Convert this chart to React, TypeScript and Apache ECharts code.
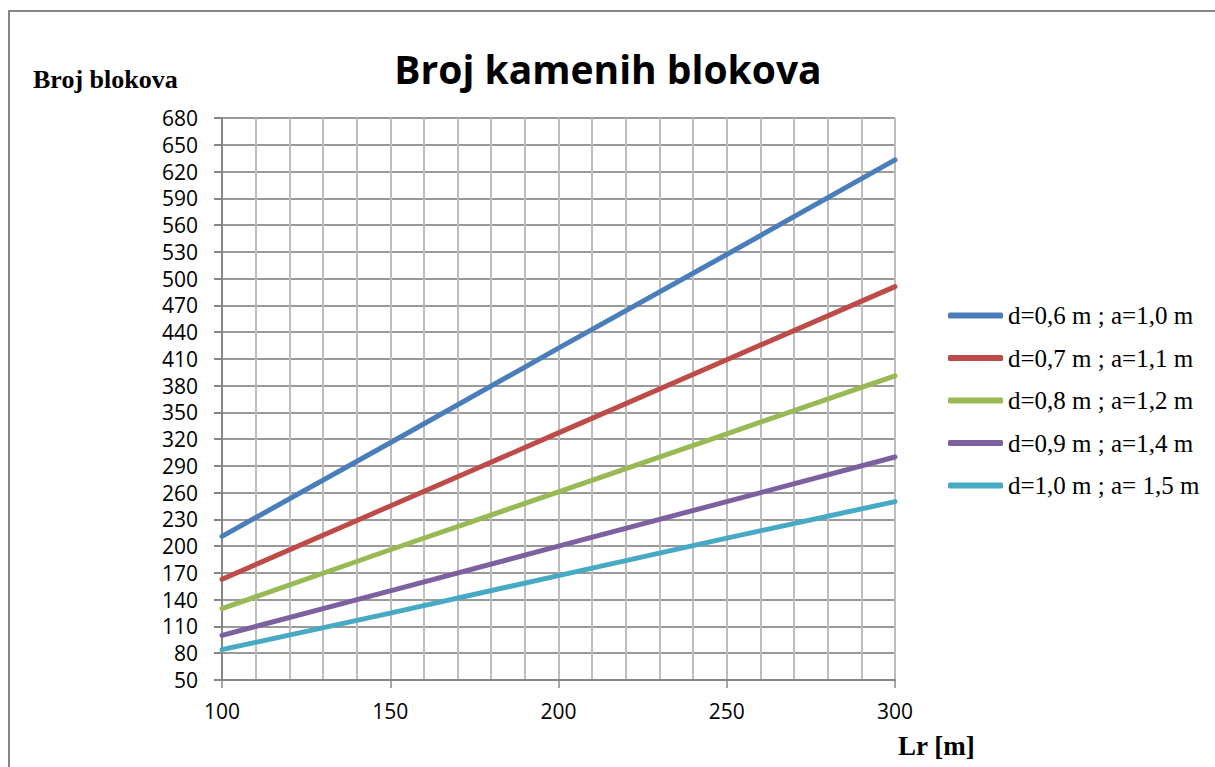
import React, { useEffect, useRef } from "react";
import * as echarts from "echarts";

const lengths = [100, 150, 200, 250, 300];
const seriesNames = [
  "d=0,6 m ; a=1,0 m",
  "d=0,7 m ; a=1,1 m",
  "d=0,8 m ; a=1,2 m",
  "d=0,9 m ; a=1,4 m",
  "d=1,0 m ; a= 1,5 m",
];
const blue = [211, 316, 422, 527, 633];
const red = [163, 245, 327, 409, 491];
const green = [130, 196, 261, 326, 391];
const purple = [100, 150, 200, 250, 300];
const cyan = [84, 125, 167, 209, 250];
const colors = ["#4a7ebb", "#be4b48", "#98b954", "#7d60a0", "#46aac5"];

export default function App() {
  const ref = useRef<HTMLDivElement>(null);
  useEffect(() => {
    const chart = echarts.init(ref.current!, null, { renderer: "svg" });
    const all = [blue, red, green, purple, cyan];
    const series: any[] = all.map((vals, i) => ({
      name: seriesNames[i],
      type: "line",
      data: lengths.map((x, j) => [x, vals[j]]),
      showSymbol: false,
      symbol: "none",
      lineStyle: { width: 5, color: colors[i], cap: "round" },
      itemStyle: { color: colors[i] },
    }));
    chart.setOption({
      animation: false,
      backgroundColor: "#fff",
      title: {
        text: "Broj kamenih blokova",
        left: 603,
        textAlign: "center",
        top: 44,
        textStyle: { fontFamily: "Open Sans", fontWeight: "bold", fontSize: 39, color: "#000" },
      },
      legend: {
        orient: "vertical",
        left: 943,
        top: 298,
        padding: 5,
        itemWidth: 55,
        itemHeight: 6,
        itemGap: 17.5,
        icon: "roundRect",
        data: seriesNames,
        textStyle: { fontFamily: "Liberation Serif", fontSize: 25, color: "#000" },
      },
      grid: { left: 222, right: 320, top: 118, bottom: 87 },
      xAxis: {
        type: "value",
        min: 100,
        max: 300,
        interval: 50,
        name: "Lr [m]",
        nameLocation: "end",
        nameGap: 0,
        nameTextStyle: {
          fontFamily: "Liberation Serif",
          fontWeight: "bold",
          fontSize: 27,
          color: "#000",
          align: "left",
          verticalAlign: "top",
          padding: [52, 0, 0, 3],
        },
        axisLine: { show: true, lineStyle: { color: "#868686", width: 2 } },
        axisTick: { show: true, length: 8, lineStyle: { color: "#868686", width: 1.5 } },
        axisLabel: { fontFamily: "Open Sans", fontSize: 21, color: "#000", margin: 20 },
        splitLine: { show: true, lineStyle: { color: "#bdbdbd", width: 2 } },
        minorTick: { show: false, splitNumber: 5 },
        minorSplitLine: { show: true, lineStyle: { color: "#bdbdbd", width: 2 } },
      },
      yAxis: {
        type: "value",
        min: 50,
        max: 680,
        interval: 30,
        axisLine: { show: true, lineStyle: { color: "#868686", width: 2 } },
        axisTick: { show: true, length: 8, lineStyle: { color: "#868686", width: 2 } },
        axisLabel: { fontFamily: "Open Sans", fontSize: 21, color: "#000", margin: 24 },
        splitLine: { show: true, lineStyle: { color: "#9a9a9a", width: 2 } },
      },
      graphic: [
        {
          type: "rect",
          shape: { x: 9, y: 11, width: 1220, height: 780 },
          style: { fill: "none", stroke: "#868686", lineWidth: 2 },
          silent: true,
        },
        {
          type: "text",
          left: 33,
          top: 66,
          style: {
            text: "Broj blokova",
            fontFamily: "Liberation Serif",
            fontWeight: "bold",
            fontSize: 26,
            fill: "#000",
          },
        },
      ],
      series,
    });
    return () => chart.dispose();
  }, []);
  return (
    <div
      ref={ref}
      style={{ position: "absolute", left: 0, top: 0, width: 1215, height: 767 }}
    />
  );
}
